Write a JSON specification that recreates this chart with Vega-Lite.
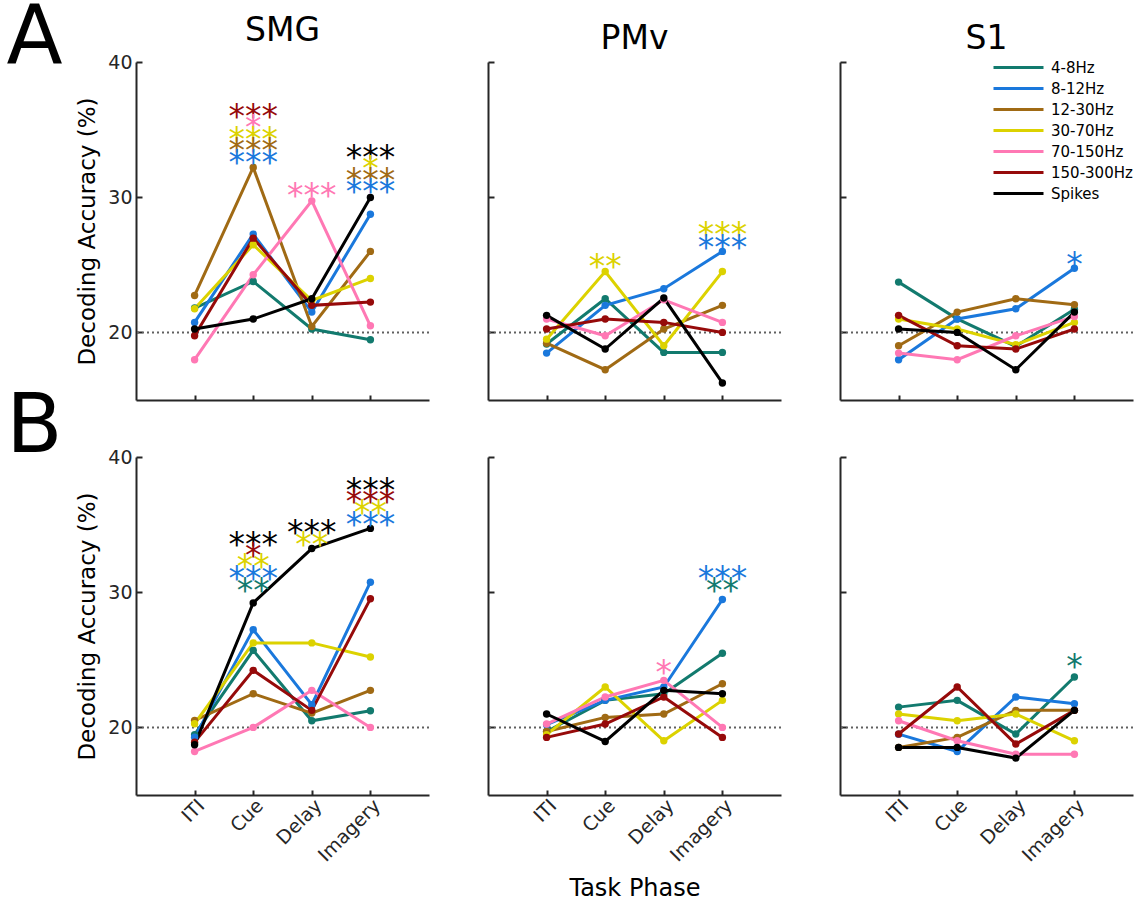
{
"$schema":"https://vega.github.io/schema/vega-lite/v6.json",
"padding":{"left":6,"top":-3,"right":5,"bottom":2},
"background":"white",
"datasets":{
"acc":[
{"s":"A","r":"SMG","b":"4-8Hz","p":"ITI","v":21.8},{"s":"A","r":"SMG","b":"4-8Hz","p":"Cue","v":23.77},{"s":"A","r":"SMG","b":"4-8Hz","p":"Delay","v":20.25},{"s":"A","r":"SMG","b":"4-8Hz","p":"Imagery","v":19.46},
{"s":"A","r":"SMG","b":"8-12Hz","p":"ITI","v":20.74},{"s":"A","r":"SMG","b":"8-12Hz","p":"Cue","v":27.27},{"s":"A","r":"SMG","b":"8-12Hz","p":"Delay","v":21.5},{"s":"A","r":"SMG","b":"8-12Hz","p":"Imagery","v":28.74},
{"s":"A","r":"SMG","b":"12-30Hz","p":"ITI","v":22.73},{"s":"A","r":"SMG","b":"12-30Hz","p":"Cue","v":32.2},{"s":"A","r":"SMG","b":"12-30Hz","p":"Delay","v":20.44},{"s":"A","r":"SMG","b":"12-30Hz","p":"Imagery","v":25.99},
{"s":"A","r":"SMG","b":"30-70Hz","p":"ITI","v":21.75},{"s":"A","r":"SMG","b":"30-70Hz","p":"Cue","v":26.48},{"s":"A","r":"SMG","b":"30-70Hz","p":"Delay","v":22.36},{"s":"A","r":"SMG","b":"30-70Hz","p":"Imagery","v":23.99},
{"s":"A","r":"SMG","b":"70-150Hz","p":"ITI","v":17.98},{"s":"A","r":"SMG","b":"70-150Hz","p":"Cue","v":24.26},{"s":"A","r":"SMG","b":"70-150Hz","p":"Delay","v":29.73},{"s":"A","r":"SMG","b":"70-150Hz","p":"Imagery","v":20.49},
{"s":"A","r":"SMG","b":"150-300Hz","p":"ITI","v":19.75},{"s":"A","r":"SMG","b":"150-300Hz","p":"Cue","v":26.97},{"s":"A","r":"SMG","b":"150-300Hz","p":"Delay","v":22.0},{"s":"A","r":"SMG","b":"150-300Hz","p":"Imagery","v":22.24},
{"s":"A","r":"SMG","b":"Spikes","p":"ITI","v":20.25},{"s":"A","r":"SMG","b":"Spikes","p":"Cue","v":20.99},{"s":"A","r":"SMG","b":"Spikes","p":"Delay","v":22.49},{"s":"A","r":"SMG","b":"Spikes","p":"Imagery","v":29.98},
{"s":"A","r":"PMv","b":"4-8Hz","p":"ITI","v":19.14},{"s":"A","r":"PMv","b":"4-8Hz","p":"Cue","v":22.49},{"s":"A","r":"PMv","b":"4-8Hz","p":"Delay","v":18.52},{"s":"A","r":"PMv","b":"4-8Hz","p":"Imagery","v":18.52},
{"s":"A","r":"PMv","b":"8-12Hz","p":"ITI","v":18.47},{"s":"A","r":"PMv","b":"8-12Hz","p":"Cue","v":22.0},{"s":"A","r":"PMv","b":"8-12Hz","p":"Delay","v":23.23},{"s":"A","r":"PMv","b":"8-12Hz","p":"Imagery","v":25.99},
{"s":"A","r":"PMv","b":"12-30Hz","p":"ITI","v":19.2},{"s":"A","r":"PMv","b":"12-30Hz","p":"Cue","v":17.24},{"s":"A","r":"PMv","b":"12-30Hz","p":"Delay","v":20.25},{"s":"A","r":"PMv","b":"12-30Hz","p":"Imagery","v":22.0},
{"s":"A","r":"PMv","b":"30-70Hz","p":"ITI","v":19.5},{"s":"A","r":"PMv","b":"30-70Hz","p":"Cue","v":24.5},{"s":"A","r":"PMv","b":"30-70Hz","p":"Delay","v":19.01},{"s":"A","r":"PMv","b":"30-70Hz","p":"Imagery","v":24.5},
{"s":"A","r":"PMv","b":"70-150Hz","p":"ITI","v":20.99},{"s":"A","r":"PMv","b":"70-150Hz","p":"Cue","v":19.75},{"s":"A","r":"PMv","b":"70-150Hz","p":"Delay","v":22.41},{"s":"A","r":"PMv","b":"70-150Hz","p":"Imagery","v":20.74},
{"s":"A","r":"PMv","b":"150-300Hz","p":"ITI","v":20.25},{"s":"A","r":"PMv","b":"150-300Hz","p":"Cue","v":20.99},{"s":"A","r":"PMv","b":"150-300Hz","p":"Delay","v":20.74},{"s":"A","r":"PMv","b":"150-300Hz","p":"Imagery","v":20.0},
{"s":"A","r":"PMv","b":"Spikes","p":"ITI","v":21.26},{"s":"A","r":"PMv","b":"Spikes","p":"Cue","v":18.77},{"s":"A","r":"PMv","b":"Spikes","p":"Delay","v":22.54},{"s":"A","r":"PMv","b":"Spikes","p":"Imagery","v":16.26},
{"s":"A","r":"S1","b":"4-8Hz","p":"ITI","v":23.72},{"s":"A","r":"S1","b":"4-8Hz","p":"Cue","v":21.0},{"s":"A","r":"S1","b":"4-8Hz","p":"Delay","v":18.96},{"s":"A","r":"S1","b":"4-8Hz","p":"Imagery","v":21.72},
{"s":"A","r":"S1","b":"8-12Hz","p":"ITI","v":17.98},{"s":"A","r":"S1","b":"8-12Hz","p":"Cue","v":20.99},{"s":"A","r":"S1","b":"8-12Hz","p":"Delay","v":21.75},{"s":"A","r":"S1","b":"8-12Hz","p":"Imagery","v":24.75},
{"s":"A","r":"S1","b":"12-30Hz","p":"ITI","v":19.01},{"s":"A","r":"S1","b":"12-30Hz","p":"Cue","v":21.5},{"s":"A","r":"S1","b":"12-30Hz","p":"Delay","v":22.49},{"s":"A","r":"S1","b":"12-30Hz","p":"Imagery","v":22.04},
{"s":"A","r":"S1","b":"30-70Hz","p":"ITI","v":20.99},{"s":"A","r":"S1","b":"30-70Hz","p":"Cue","v":20.25},{"s":"A","r":"S1","b":"30-70Hz","p":"Delay","v":19.09},{"s":"A","r":"S1","b":"30-70Hz","p":"Imagery","v":20.74},
{"s":"A","r":"S1","b":"70-150Hz","p":"ITI","v":18.47},{"s":"A","r":"S1","b":"70-150Hz","p":"Cue","v":17.98},{"s":"A","r":"S1","b":"70-150Hz","p":"Delay","v":19.75},{"s":"A","r":"S1","b":"70-150Hz","p":"Imagery","v":21.18},
{"s":"A","r":"S1","b":"150-300Hz","p":"ITI","v":21.26},{"s":"A","r":"S1","b":"150-300Hz","p":"Cue","v":19.01},{"s":"A","r":"S1","b":"150-300Hz","p":"Delay","v":18.77},{"s":"A","r":"S1","b":"150-300Hz","p":"Imagery","v":20.25},
{"s":"A","r":"S1","b":"Spikes","p":"ITI","v":20.25},{"s":"A","r":"S1","b":"Spikes","p":"Cue","v":20.0},{"s":"A","r":"S1","b":"Spikes","p":"Delay","v":17.24},{"s":"A","r":"S1","b":"Spikes","p":"Imagery","v":21.5},
{"s":"B","r":"SMG","b":"4-8Hz","p":"ITI","v":19.46},{"s":"B","r":"SMG","b":"4-8Hz","p":"Cue","v":25.7},{"s":"B","r":"SMG","b":"4-8Hz","p":"Delay","v":20.49},{"s":"B","r":"SMG","b":"4-8Hz","p":"Imagery","v":21.23},
{"s":"B","r":"SMG","b":"8-12Hz","p":"ITI","v":19.28},{"s":"B","r":"SMG","b":"8-12Hz","p":"Cue","v":27.23},{"s":"B","r":"SMG","b":"8-12Hz","p":"Delay","v":21.68},{"s":"B","r":"SMG","b":"8-12Hz","p":"Imagery","v":30.74},
{"s":"B","r":"SMG","b":"12-30Hz","p":"ITI","v":20.52},{"s":"B","r":"SMG","b":"12-30Hz","p":"Cue","v":22.49},{"s":"B","r":"SMG","b":"12-30Hz","p":"Delay","v":21.06},{"s":"B","r":"SMG","b":"12-30Hz","p":"Imagery","v":22.74},
{"s":"B","r":"SMG","b":"30-70Hz","p":"ITI","v":20.27},{"s":"B","r":"SMG","b":"30-70Hz","p":"Cue","v":26.25},{"s":"B","r":"SMG","b":"30-70Hz","p":"Delay","v":26.25},{"s":"B","r":"SMG","b":"30-70Hz","p":"Imagery","v":25.21},
{"s":"B","r":"SMG","b":"70-150Hz","p":"ITI","v":18.22},{"s":"B","r":"SMG","b":"70-150Hz","p":"Cue","v":20.0},{"s":"B","r":"SMG","b":"70-150Hz","p":"Delay","v":22.74},{"s":"B","r":"SMG","b":"70-150Hz","p":"Imagery","v":20.0},
{"s":"B","r":"SMG","b":"150-300Hz","p":"ITI","v":18.91},{"s":"B","r":"SMG","b":"150-300Hz","p":"Cue","v":24.22},{"s":"B","r":"SMG","b":"150-300Hz","p":"Delay","v":21.26},{"s":"B","r":"SMG","b":"150-300Hz","p":"Imagery","v":29.51},
{"s":"B","r":"SMG","b":"Spikes","p":"ITI","v":18.72},{"s":"B","r":"SMG","b":"Spikes","p":"Cue","v":29.21},{"s":"B","r":"SMG","b":"Spikes","p":"Delay","v":33.23},{"s":"B","r":"SMG","b":"Spikes","p":"Imagery","v":34.72},
{"s":"B","r":"PMv","b":"4-8Hz","p":"ITI","v":19.7},{"s":"B","r":"PMv","b":"4-8Hz","p":"Cue","v":22.0},{"s":"B","r":"PMv","b":"4-8Hz","p":"Delay","v":22.49},{"s":"B","r":"PMv","b":"4-8Hz","p":"Imagery","v":25.48},
{"s":"B","r":"PMv","b":"8-12Hz","p":"ITI","v":20.2},{"s":"B","r":"PMv","b":"8-12Hz","p":"Cue","v":22.0},{"s":"B","r":"PMv","b":"8-12Hz","p":"Delay","v":22.99},{"s":"B","r":"PMv","b":"8-12Hz","p":"Imagery","v":29.46},
{"s":"B","r":"PMv","b":"12-30Hz","p":"ITI","v":19.7},{"s":"B","r":"PMv","b":"12-30Hz","p":"Cue","v":20.74},{"s":"B","r":"PMv","b":"12-30Hz","p":"Delay","v":20.99},{"s":"B","r":"PMv","b":"12-30Hz","p":"Imagery","v":23.23},
{"s":"B","r":"PMv","b":"30-70Hz","p":"ITI","v":19.46},{"s":"B","r":"PMv","b":"30-70Hz","p":"Cue","v":22.99},{"s":"B","r":"PMv","b":"30-70Hz","p":"Delay","v":19.01},{"s":"B","r":"PMv","b":"30-70Hz","p":"Imagery","v":22.0},
{"s":"B","r":"PMv","b":"70-150Hz","p":"ITI","v":20.25},{"s":"B","r":"PMv","b":"70-150Hz","p":"Cue","v":22.25},{"s":"B","r":"PMv","b":"70-150Hz","p":"Delay","v":23.48},{"s":"B","r":"PMv","b":"70-150Hz","p":"Imagery","v":20.0},
{"s":"B","r":"PMv","b":"150-300Hz","p":"ITI","v":19.26},{"s":"B","r":"PMv","b":"150-300Hz","p":"Cue","v":20.25},{"s":"B","r":"PMv","b":"150-300Hz","p":"Delay","v":22.25},{"s":"B","r":"PMv","b":"150-300Hz","p":"Imagery","v":19.26},
{"s":"B","r":"PMv","b":"Spikes","p":"ITI","v":20.99},{"s":"B","r":"PMv","b":"Spikes","p":"Cue","v":18.96},{"s":"B","r":"PMv","b":"Spikes","p":"Delay","v":22.74},{"s":"B","r":"PMv","b":"Spikes","p":"Imagery","v":22.49},
{"s":"B","r":"S1","b":"4-8Hz","p":"ITI","v":21.5},{"s":"B","r":"S1","b":"4-8Hz","p":"Cue","v":22.0},{"s":"B","r":"S1","b":"4-8Hz","p":"Delay","v":19.51},{"s":"B","r":"S1","b":"4-8Hz","p":"Imagery","v":23.73},
{"s":"B","r":"S1","b":"8-12Hz","p":"ITI","v":19.5},{"s":"B","r":"S1","b":"8-12Hz","p":"Cue","v":18.22},{"s":"B","r":"S1","b":"8-12Hz","p":"Delay","v":22.25},{"s":"B","r":"S1","b":"8-12Hz","p":"Imagery","v":21.75},
{"s":"B","r":"S1","b":"12-30Hz","p":"ITI","v":18.52},{"s":"B","r":"S1","b":"12-30Hz","p":"Cue","v":19.26},{"s":"B","r":"S1","b":"12-30Hz","p":"Delay","v":21.26},{"s":"B","r":"S1","b":"12-30Hz","p":"Imagery","v":21.26},
{"s":"B","r":"S1","b":"30-70Hz","p":"ITI","v":20.99},{"s":"B","r":"S1","b":"30-70Hz","p":"Cue","v":20.49},{"s":"B","r":"S1","b":"30-70Hz","p":"Delay","v":20.99},{"s":"B","r":"S1","b":"30-70Hz","p":"Imagery","v":19.01},
{"s":"B","r":"S1","b":"70-150Hz","p":"ITI","v":20.49},{"s":"B","r":"S1","b":"70-150Hz","p":"Cue","v":19.01},{"s":"B","r":"S1","b":"70-150Hz","p":"Delay","v":18.02},{"s":"B","r":"S1","b":"70-150Hz","p":"Imagery","v":18.02},
{"s":"B","r":"S1","b":"150-300Hz","p":"ITI","v":19.51},{"s":"B","r":"S1","b":"150-300Hz","p":"Cue","v":22.99},{"s":"B","r":"S1","b":"150-300Hz","p":"Delay","v":18.77},{"s":"B","r":"S1","b":"150-300Hz","p":"Imagery","v":21.26},
{"s":"B","r":"S1","b":"Spikes","p":"ITI","v":18.52},{"s":"B","r":"S1","b":"Spikes","p":"Cue","v":18.52},{"s":"B","r":"S1","b":"Spikes","p":"Delay","v":17.73},{"s":"B","r":"S1","b":"Spikes","p":"Imagery","v":21.26}
],
"stars":[
{"s":"A","r":"SMG","b":"150-300Hz","p":"Cue","v":36.5,"t":"***"},
{"s":"A","r":"SMG","b":"70-150Hz","p":"Cue","v":35.7,"t":"*"},
{"s":"A","r":"SMG","b":"30-70Hz","p":"Cue","v":34.85,"t":"***"},
{"s":"A","r":"SMG","b":"12-30Hz","p":"Cue","v":34.04,"t":"***"},
{"s":"A","r":"SMG","b":"8-12Hz","p":"Cue","v":33.1,"t":"***"},
{"s":"A","r":"SMG","b":"70-150Hz","p":"Delay","v":30.66,"t":"***"},
{"s":"A","r":"SMG","b":"Spikes","p":"Imagery","v":33.5,"t":"***"},
{"s":"A","r":"SMG","b":"30-70Hz","p":"Imagery","v":32.7,"t":"*"},
{"s":"A","r":"SMG","b":"12-30Hz","p":"Imagery","v":31.8,"t":"***"},
{"s":"A","r":"SMG","b":"8-12Hz","p":"Imagery","v":30.96,"t":"***"},
{"s":"A","r":"PMv","b":"30-70Hz","p":"Cue","v":25.42,"t":"**"},
{"s":"A","r":"PMv","b":"30-70Hz","p":"Imagery","v":27.78,"t":"***"},
{"s":"A","r":"PMv","b":"8-12Hz","p":"Imagery","v":26.85,"t":"***"},
{"s":"A","r":"S1","b":"8-12Hz","p":"Imagery","v":25.6,"t":"*"},
{"s":"B","r":"SMG","b":"Spikes","p":"Cue","v":34.1,"t":"***"},
{"s":"B","r":"SMG","b":"150-300Hz","p":"Cue","v":33.28,"t":"*"},
{"s":"B","r":"SMG","b":"30-70Hz","p":"Cue","v":32.42,"t":"**"},
{"s":"B","r":"SMG","b":"8-12Hz","p":"Cue","v":31.56,"t":"***"},
{"s":"B","r":"SMG","b":"4-8Hz","p":"Cue","v":30.69,"t":"**"},
{"s":"B","r":"SMG","b":"Spikes","p":"Delay","v":34.94,"t":"***"},
{"s":"B","r":"SMG","b":"30-70Hz","p":"Delay","v":34.1,"t":"**"},
{"s":"B","r":"SMG","b":"Spikes","p":"Imagery","v":38.1,"t":"***"},
{"s":"B","r":"SMG","b":"150-300Hz","p":"Imagery","v":37.23,"t":"***"},
{"s":"B","r":"SMG","b":"30-70Hz","p":"Imagery","v":36.42,"t":"**"},
{"s":"B","r":"SMG","b":"8-12Hz","p":"Imagery","v":35.56,"t":"***"},
{"s":"B","r":"PMv","b":"70-150Hz","p":"Delay","v":24.64,"t":"*"},
{"s":"B","r":"PMv","b":"8-12Hz","p":"Imagery","v":31.56,"t":"***"},
{"s":"B","r":"PMv","b":"4-8Hz","p":"Imagery","v":30.69,"t":"**"},
{"s":"B","r":"S1","b":"4-8Hz","p":"Imagery","v":25.06,"t":"*"}
],
"ref":[{"chance":20}]
},
"spacing":-15,
"vconcat":[
{"title":{"text":"A","orient":"left","anchor":"end","angle":0,"align":"right","baseline":"top","fontSize":82,"fontWeight":"normal","offset":-42,"dy":-17},
"spacing":57,
"hconcat":[
{"width":293,"height":338,"title":"SMG","layer":[
{"data":{"name":"ref"},"mark":{"type":"rule","strokeDash":[2,3],"color":"#606060","strokeWidth":2},"encoding":{"y":{"field":"chance","type":"quantitative","scale":{"domain":[15,40],"nice":false}}}},
{"data":{"name":"acc"},"transform":[{"filter":"datum.s=='A' && datum.r=='SMG'"}],"mark":{"type":"line","strokeWidth":3},"encoding":{"x":{"field":"p","type":"ordinal","sort":["ITI","Cue","Delay","Imagery"],"scale":{"type":"point","padding":1},"axis":{"labels":false,"title":null}},"y":{"field":"v","type":"quantitative","scale":{"domain":[15,40],"nice":false},"axis":{"values":[20,30,40],"title":"Decoding Accuracy (%)"}},"color":{"field":"b","type":"nominal","scale":{"domain":["4-8Hz","8-12Hz","12-30Hz","30-70Hz","70-150Hz","150-300Hz","Spikes"],"range":["#127a6e","#1a78dc","#a06a14","#dcd200","#ff78b4","#960a0a","#000000"]},"legend":{"title":null}}}},
{"data":{"name":"acc"},"transform":[{"filter":"datum.s=='A' && datum.r=='SMG'"}],"mark":{"type":"point","filled":true,"size":55,"opacity":1},"encoding":{"x":{"field":"p","type":"ordinal","sort":["ITI","Cue","Delay","Imagery"]},"y":{"field":"v","type":"quantitative"},"color":{"field":"b","type":"nominal","legend":{"title":null}}}},
{"data":{"name":"stars"},"transform":[{"filter":"datum.s=='A' && datum.r=='SMG'"}],"mark":{"type":"text","font":"DejaVu Sans","fontSize":33,"dy":9},"encoding":{"x":{"field":"p","type":"ordinal","sort":["ITI","Cue","Delay","Imagery"]},"y":{"field":"v","type":"quantitative"},"color":{"field":"b","type":"nominal","legend":{"title":null}},"text":{"field":"t"}}}
]},
{"width":293,"height":338,"title":"PMv","layer":[
{"data":{"name":"ref"},"mark":{"type":"rule","strokeDash":[2,3],"color":"#606060","strokeWidth":2},"encoding":{"y":{"field":"chance","type":"quantitative","scale":{"domain":[15,40],"nice":false}}}},
{"data":{"name":"acc"},"transform":[{"filter":"datum.s=='A' && datum.r=='PMv'"}],"mark":{"type":"line","strokeWidth":3},"encoding":{"x":{"field":"p","type":"ordinal","sort":["ITI","Cue","Delay","Imagery"],"scale":{"type":"point","padding":1},"axis":{"labels":false,"title":null}},"y":{"field":"v","type":"quantitative","scale":{"domain":[15,40],"nice":false},"axis":{"values":[20,30,40],"labels":false,"title":null}},"color":{"field":"b","type":"nominal","legend":{"title":null}}}},
{"data":{"name":"acc"},"transform":[{"filter":"datum.s=='A' && datum.r=='PMv'"}],"mark":{"type":"point","filled":true,"size":55,"opacity":1},"encoding":{"x":{"field":"p","type":"ordinal","sort":["ITI","Cue","Delay","Imagery"]},"y":{"field":"v","type":"quantitative"},"color":{"field":"b","type":"nominal","legend":{"title":null}}}},
{"data":{"name":"stars"},"transform":[{"filter":"datum.s=='A' && datum.r=='PMv'"}],"mark":{"type":"text","font":"DejaVu Sans","fontSize":33,"dy":9},"encoding":{"x":{"field":"p","type":"ordinal","sort":["ITI","Cue","Delay","Imagery"]},"y":{"field":"v","type":"quantitative"},"color":{"field":"b","type":"nominal","legend":{"title":null}},"text":{"field":"t"}}}
]},
{"width":293,"height":338,"title":"S1","layer":[
{"data":{"name":"ref"},"mark":{"type":"rule","strokeDash":[2,3],"color":"#606060","strokeWidth":2},"encoding":{"y":{"field":"chance","type":"quantitative","scale":{"domain":[15,40],"nice":false}}}},
{"data":{"name":"acc"},"transform":[{"filter":"datum.s=='A' && datum.r=='S1'"}],"mark":{"type":"line","strokeWidth":3},"encoding":{"x":{"field":"p","type":"ordinal","sort":["ITI","Cue","Delay","Imagery"],"scale":{"type":"point","padding":1},"axis":{"labels":false,"title":null}},"y":{"field":"v","type":"quantitative","scale":{"domain":[15,40],"nice":false},"axis":{"values":[20,30,40],"labels":false,"title":null}},"color":{"field":"b","type":"nominal","legend":{"title":null}}}},
{"data":{"name":"acc"},"transform":[{"filter":"datum.s=='A' && datum.r=='S1'"}],"mark":{"type":"point","filled":true,"size":55,"opacity":1},"encoding":{"x":{"field":"p","type":"ordinal","sort":["ITI","Cue","Delay","Imagery"]},"y":{"field":"v","type":"quantitative"},"color":{"field":"b","type":"nominal","legend":{"title":null}}}},
{"data":{"name":"stars"},"transform":[{"filter":"datum.s=='A' && datum.r=='S1'"}],"mark":{"type":"text","font":"DejaVu Sans","fontSize":33,"dy":9},"encoding":{"x":{"field":"p","type":"ordinal","sort":["ITI","Cue","Delay","Imagery"]},"y":{"field":"v","type":"quantitative"},"color":{"field":"b","type":"nominal","legend":{"title":null}},"text":{"field":"t"}}}
]}
]},
{"title":{"text":"B","orient":"left","anchor":"end","angle":0,"align":"right","baseline":"alphabetic","fontSize":82,"fontWeight":"normal","offset":-42,"dy":4},
"spacing":57,
"hconcat":[
{"width":293,"height":338,"layer":[
{"data":{"name":"ref"},"mark":{"type":"rule","strokeDash":[2,3],"color":"#606060","strokeWidth":2},"encoding":{"y":{"field":"chance","type":"quantitative","scale":{"domain":[15,40],"nice":false}}}},
{"data":{"name":"acc"},"transform":[{"filter":"datum.s=='B' && datum.r=='SMG'"}],"mark":{"type":"line","strokeWidth":3},"encoding":{"x":{"field":"p","type":"ordinal","sort":["ITI","Cue","Delay","Imagery"],"scale":{"type":"point","padding":1},"axis":{"labelAngle":-45,"labelAlign":"right","labelBaseline":"top","title":null}},"y":{"field":"v","type":"quantitative","scale":{"domain":[15,40],"nice":false},"axis":{"values":[20,30,40],"title":"Decoding Accuracy (%)"}},"color":{"field":"b","type":"nominal","legend":{"title":null}}}},
{"data":{"name":"acc"},"transform":[{"filter":"datum.s=='B' && datum.r=='SMG'"}],"mark":{"type":"point","filled":true,"size":55,"opacity":1},"encoding":{"x":{"field":"p","type":"ordinal","sort":["ITI","Cue","Delay","Imagery"]},"y":{"field":"v","type":"quantitative"},"color":{"field":"b","type":"nominal","legend":{"title":null}}}},
{"data":{"name":"stars"},"transform":[{"filter":"datum.s=='B' && datum.r=='SMG'"}],"mark":{"type":"text","font":"DejaVu Sans","fontSize":33,"dy":9},"encoding":{"x":{"field":"p","type":"ordinal","sort":["ITI","Cue","Delay","Imagery"]},"y":{"field":"v","type":"quantitative"},"color":{"field":"b","type":"nominal","legend":{"title":null}},"text":{"field":"t"}}}
]},
{"width":293,"height":338,"layer":[
{"data":{"name":"ref"},"mark":{"type":"rule","strokeDash":[2,3],"color":"#606060","strokeWidth":2},"encoding":{"y":{"field":"chance","type":"quantitative","scale":{"domain":[15,40],"nice":false}}}},
{"data":{"name":"acc"},"transform":[{"filter":"datum.s=='B' && datum.r=='PMv'"}],"mark":{"type":"line","strokeWidth":3},"encoding":{"x":{"field":"p","type":"ordinal","sort":["ITI","Cue","Delay","Imagery"],"scale":{"type":"point","padding":1},"axis":{"labelAngle":-45,"labelAlign":"right","labelBaseline":"top","title":"Task Phase"}},"y":{"field":"v","type":"quantitative","scale":{"domain":[15,40],"nice":false},"axis":{"values":[20,30,40],"labels":false,"title":null}},"color":{"field":"b","type":"nominal","legend":{"title":null}}}},
{"data":{"name":"acc"},"transform":[{"filter":"datum.s=='B' && datum.r=='PMv'"}],"mark":{"type":"point","filled":true,"size":55,"opacity":1},"encoding":{"x":{"field":"p","type":"ordinal","sort":["ITI","Cue","Delay","Imagery"]},"y":{"field":"v","type":"quantitative"},"color":{"field":"b","type":"nominal","legend":{"title":null}}}},
{"data":{"name":"stars"},"transform":[{"filter":"datum.s=='B' && datum.r=='PMv'"}],"mark":{"type":"text","font":"DejaVu Sans","fontSize":33,"dy":9},"encoding":{"x":{"field":"p","type":"ordinal","sort":["ITI","Cue","Delay","Imagery"]},"y":{"field":"v","type":"quantitative"},"color":{"field":"b","type":"nominal","legend":{"title":null}},"text":{"field":"t"}}}
]},
{"width":293,"height":338,"layer":[
{"data":{"name":"ref"},"mark":{"type":"rule","strokeDash":[2,3],"color":"#606060","strokeWidth":2},"encoding":{"y":{"field":"chance","type":"quantitative","scale":{"domain":[15,40],"nice":false}}}},
{"data":{"name":"acc"},"transform":[{"filter":"datum.s=='B' && datum.r=='S1'"}],"mark":{"type":"line","strokeWidth":3},"encoding":{"x":{"field":"p","type":"ordinal","sort":["ITI","Cue","Delay","Imagery"],"scale":{"type":"point","padding":1},"axis":{"labelAngle":-45,"labelAlign":"right","labelBaseline":"top","title":null}},"y":{"field":"v","type":"quantitative","scale":{"domain":[15,40],"nice":false},"axis":{"values":[20,30,40],"labels":false,"title":null}},"color":{"field":"b","type":"nominal","legend":{"title":null}}}},
{"data":{"name":"acc"},"transform":[{"filter":"datum.s=='B' && datum.r=='S1'"}],"mark":{"type":"point","filled":true,"size":55,"opacity":1},"encoding":{"x":{"field":"p","type":"ordinal","sort":["ITI","Cue","Delay","Imagery"]},"y":{"field":"v","type":"quantitative"},"color":{"field":"b","type":"nominal","legend":{"title":null}}}},
{"data":{"name":"stars"},"transform":[{"filter":"datum.s=='B' && datum.r=='S1'"}],"mark":{"type":"text","font":"DejaVu Sans","fontSize":33,"dy":9},"encoding":{"x":{"field":"p","type":"ordinal","sort":["ITI","Cue","Delay","Imagery"]},"y":{"field":"v","type":"quantitative"},"color":{"field":"b","type":"nominal","legend":{"title":null}},"text":{"field":"t"}}}
]}
]}
],
"config":{
"view":{"stroke":null},
"title":{"font":"DejaVu Sans","fontSize":33,"fontWeight":"normal","color":"#000","offset":5},
"axis":{"domainColor":"#262626","domainWidth":2,"tickColor":"#262626","tickWidth":2,"tickSize":-6,"labelFont":"DejaVu Sans","labelFontSize":19,"labelColor":"#262626","titleFont":"DejaVu Sans","titleFontSize":23,"titleColor":"#000","titleFontWeight":"normal","grid":false,"labelPadding":10},
"axisX":{"labelFontSize":19,"titleFontSize":24,"labelPadding":6,"tickSize":-5,"titlePadding":12},
"axisY":{"titlePadding":8},
"legend":{"orient":"none","legendX":875,"legendY":-2,"padding":0,"symbolType":"M-5,0H5","symbolSize":100,"symbolStrokeWidth":3,"symbolFillColor":"transparent","labelFontSize":15,"labelFont":"DejaVu Sans","labelColor":"#000","labelOffset":25,"rowPadding":5}
}
}
